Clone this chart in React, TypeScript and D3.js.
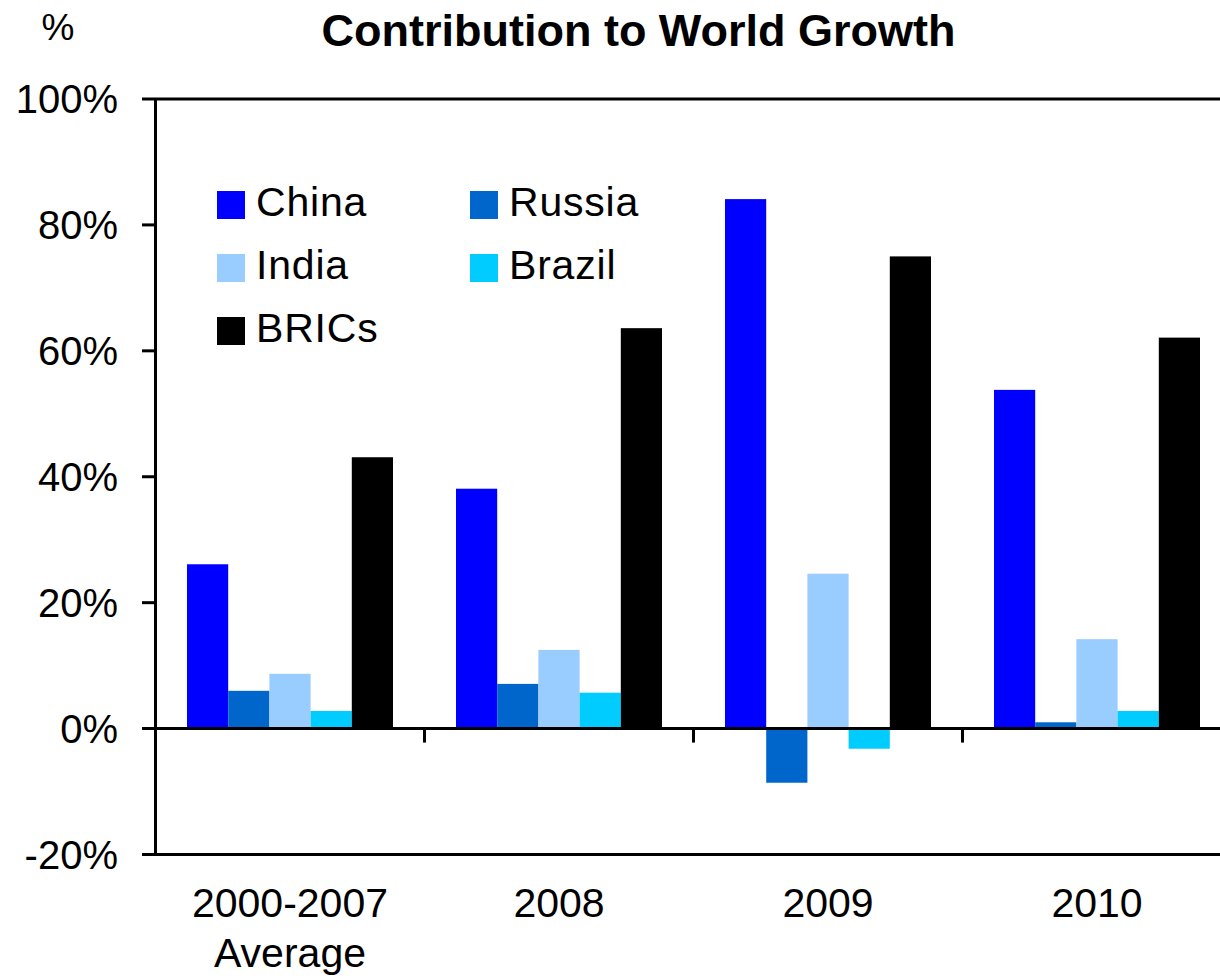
import React from "react";
import * as d3 from "d3";

// Contribution to world GDP growth, percent
const categories = ["2000-2007|Average", "2008", "2009", "2010"];
const seriesNames = ["China", "Russia", "India", "Brazil", "BRICs"];
const seriesColors = ["#0000FF", "#0066CC", "#99CCFF", "#00CCFF", "#000000"];
const china = [26.1, 38.1, 84.1, 53.8];
const russia = [6.0, 7.1, -8.6, 1.0];
const india = [8.7, 12.5, 24.6, 14.2];
const brazil = [2.8, 5.7, -3.2, 2.8];
const brics = [43.1, 63.6, 75.0, 62.1];
const seriesValues = [china, russia, india, brazil, brics];
const yTicks = [-20, 0, 20, 40, 60, 80, 100];

const W = 1220;
const H = 978;
const FONT = "'Liberation Sans', Arial, Helvetica, sans-serif";

export default function App() {
  const left = 155.5;
  const bandW = 269;
  const x = d3
    .scaleBand<string>()
    .domain(categories)
    .range([left, left + bandW * categories.length])
    .paddingInner(0)
    .paddingOuter(0);
  const pad = 31.5;
  const xs = d3
    .scaleBand<string>()
    .domain(seriesNames)
    .range([pad, bandW - pad])
    .padding(0);
  const y = d3.scaleLinear().domain([-20, 100]).range([854.5, 99]);
  const y0 = y(0);

  return (
    <svg
      width={W}
      height={H}
      style={{ position: "absolute", left: 0, top: 0, background: "#fff" }}
      fontFamily={FONT}
    >
      {/* title and unit */}
      <text x={638.5} y={46} textAnchor="middle" fontSize={45} fontWeight="bold">
        Contribution to World Growth
      </text>
      <text x={58} y={40} textAnchor="middle" fontSize={37}>
        %
      </text>

      {/* bars */}
      {categories.map((c, ci) => (
        <g key={c} transform={`translate(${x(c)},0)`}>
          {seriesNames.map((s, si) => {
            const v = seriesValues[si][ci];
            const top = Math.min(y(v), y0);
            const h = Math.abs(y(v) - y0);
            return (
              <rect
                key={s}
                x={xs(s)}
                y={top}
                width={xs.bandwidth()}
                height={h}
                fill={seriesColors[si]}
              />
            );
          })}
        </g>
      ))}

      {/* y axis */}
      <line x1={left} x2={left} y1={y(100)} y2={y(-20)} stroke="#000" strokeWidth={3} />
      {yTicks.map((t) => (
        <g key={t}>
          <line
            x1={142}
            x2={t === 100 || t === -20 || t === 0 ? W : left}
            y1={y(t)}
            y2={y(t)}
            stroke="#000"
            strokeWidth={3}
          />
          <text x={118} y={y(t) + 14} textAnchor="end" fontSize={40}>
            {`${t}%`}
          </text>
        </g>
      ))}

      {/* category ticks on the zero line */}
      {categories.slice(1).map((c) => (
        <line
          key={c}
          x1={x(c)}
          x2={x(c)}
          y1={y0}
          y2={y0 + 14}
          stroke="#000"
          strokeWidth={3}
        />
      ))}

      {/* category labels */}
      {categories.map((c) => {
        const cx = (x(c) as number) + bandW / 2;
        const lines = c.split("|");
        return (
          <text key={c} x={cx} textAnchor="middle" fontSize={41}>
            {lines.map((l, i) => (
              <tspan key={i} x={cx} y={917 + i * 50}>
                {l}
              </tspan>
            ))}
          </text>
        );
      })}

      {/* legend */}
      {seriesNames.map((s, i) => {
        const col = i === 4 ? 0 : i % 2;
        const row = Math.floor(i / 2);
        const lx = col === 0 ? 217 : 470;
        const ly = 191 + row * 63;
        return (
          <g key={s}>
            <rect x={lx} y={ly} width={28} height={28} fill={seriesColors[i]} />
            <text x={lx + 39} y={ly + 25} fontSize={41} letterSpacing={0.8}>
              {s}
            </text>
          </g>
        );
      })}
    </svg>
  );
}
